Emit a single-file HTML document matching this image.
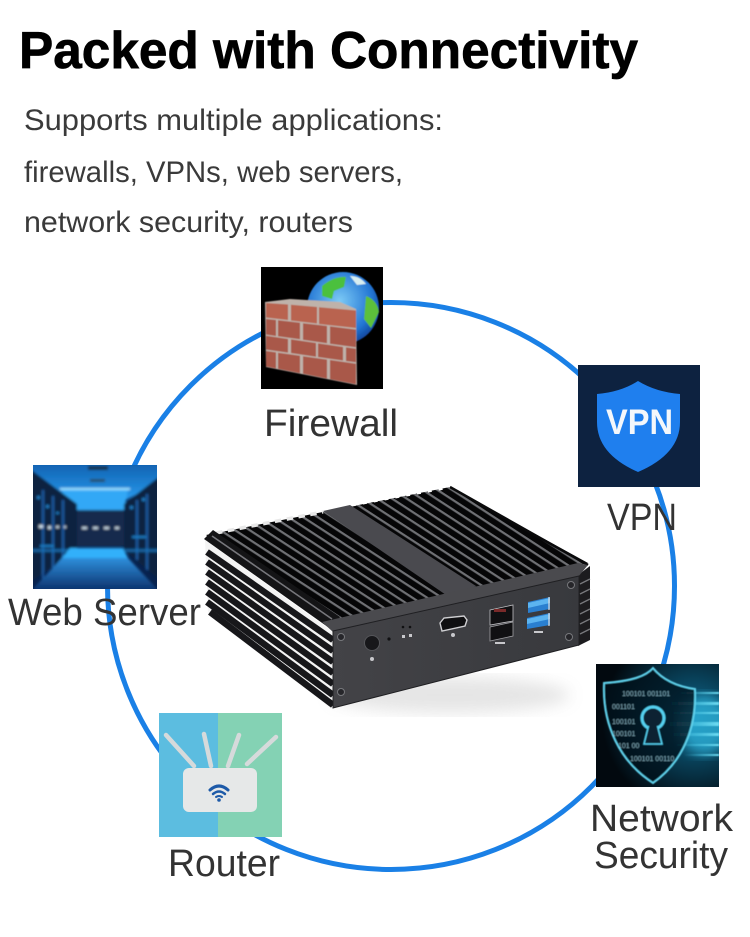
<!DOCTYPE html>
<html><head><meta charset="utf-8"><style>
html,body{margin:0;padding:0;background:#fff}
svg{display:block}
text{font-family:"Liberation Sans",sans-serif}
</style></head><body>
<svg xmlns="http://www.w3.org/2000/svg" width="750" height="937" viewBox="0 0 750 937">
<defs>
<pattern id="fin" width="8" height="8" patternUnits="userSpaceOnUse" patternTransform="translate(205 538) rotate(33)">
<rect width="8" height="8" fill="#060607"/><rect y="0" width="8" height="2.2" fill="#6f7074"/>
</pattern>
<clipPath id="cSrv"><rect x="33" y="465" width="124" height="124"/></clipPath>
<clipPath id="cSec"><rect x="596" y="664" width="123" height="123"/></clipPath>
<filter id="s1"><feGaussianBlur stdDeviation="0.6"/></filter>
<filter id="s15"><feGaussianBlur stdDeviation="1.2"/></filter>
<filter id="s6"><feGaussianBlur stdDeviation="6"/></filter>
<filter id="s8"><feGaussianBlur stdDeviation="8"/></filter>
<radialGradient id="globe" cx="0.45" cy="0.4" r="0.65"><stop offset="0" stop-color="#7ccaf6"/><stop offset="0.7" stop-color="#2376d4"/><stop offset="1" stop-color="#0d3c92"/></radialGradient>
<linearGradient id="panel" x1="0" y1="0" x2="1" y2="0"><stop offset="0" stop-color="#434347"/><stop offset="1" stop-color="#38393d"/></linearGradient>
<linearGradient id="srvTop" x1="0" y1="0" x2="0" y2="1"><stop offset="0" stop-color="#0f5fae"/><stop offset="1" stop-color="#2a9df0"/></linearGradient>
<linearGradient id="srvFloor" x1="0" y1="0" x2="0" y2="1"><stop offset="0" stop-color="#2e8fdc"/><stop offset="1" stop-color="#0a2c66"/></linearGradient>
<radialGradient id="secbg" cx="0.8" cy="0.45" r="0.75"><stop offset="0" stop-color="#0e6d94"/><stop offset="1" stop-color="#02090f"/></radialGradient>
<linearGradient id="streak" x1="0" y1="0" x2="1" y2="0"><stop offset="0" stop-color="#3fc4e6" stop-opacity="0"/><stop offset="1" stop-color="#6fdcf2"/></linearGradient>
</defs>
<rect width="750" height="937" fill="#fff"/>

<text x="19" y="68" font-size="52" font-weight="700" fill="#000" stroke="#000" stroke-width=".7" textLength="619" lengthAdjust="spacingAndGlyphs">Packed with Connectivity</text>
<g font-size="30" fill="#3a3a3a">
<text x="24" y="130" textLength="419" lengthAdjust="spacingAndGlyphs">Supports multiple applications:</text>
<text x="24" y="182" textLength="379" lengthAdjust="spacingAndGlyphs">firewalls, VPNs, web servers,</text>
<text x="24" y="232" textLength="329" lengthAdjust="spacingAndGlyphs">network security, routers</text>
</g>

<circle cx="391" cy="586" r="283.5" fill="none" stroke="#1a80e6" stroke-width="5"/>

<!-- Firewall -->
<g>
<rect x="261" y="267" width="122" height="122" fill="#000"/>
<g filter="url(#s1)">
<circle cx="343" cy="308" r="36" fill="url(#globe)"/>
<path d="M322 286q12-10 24-9l-2 10-10 4-2 8-10-3z" fill="#4cc03c"/>
<path d="M366 296q11 4 13 16l-8 16-7-9z" fill="#5cc03a"/>
<path d="M350 276q10 0 16 8l-9 1z" fill="#d8eef0"/>
<polygon points="265,302 290,299 340,302 356,309 357,385 266,367" fill="#bfb2aa"/>
<g fill="#a9584a">
<polygon points="266,303 288,304.5 288,320 266,317.5" fill="#b9644f"/>
<polygon points="291,304.8 317,307 317,323.5 291,320.5" fill="#b9644f"/>
<polygon points="319,307.3 356,310.5 356,328 319,324" fill="#b9644f"/>
<polygon points="266,319 276,320 276,336 266,334.5"/>
<polygon points="278,320.3 300,322.8 300,339.3 278,336.3"/>
<polygon points="303,323.2 327,326 327,343.2 303,339.8"/>
<polygon points="330,326.4 356,329.6 356,347.3 330,343.7"/>
<polygon points="266,335.8 288,339 288,352.6 266,349.5"/>
<polygon points="291,339.4 316,343 316,356.8 291,353"/>
<polygon points="318,343.4 343,347 343,360.5 318,357"/>
<polygon points="346,347.4 356,348.7 356,362.3 346,361"/>
<polygon points="266,351 276,352.4 276,368.5 266,366.5"/>
<polygon points="278,352.7 300,355.8 300,373.2 278,368.9"/>
<polygon points="303,356.2 327,359.6 327,378.6 303,373.8"/>
<polygon points="330,360 356,363.8 356,384.3 330,379.2"/>
</g>
</g>
</g>

<!-- VPN -->
<rect x="578" y="365" width="122" height="122" fill="#0d2240"/>
<path d="M638 381q18 11 42 13v28q0 32-42 50q-41-18-41-50v-28q24-2 41-13z" fill="#1f7fee"/>
<text x="606" y="434" font-size="35" font-weight="700" fill="#f4f7fb" textLength="67" lengthAdjust="spacingAndGlyphs">VPN</text>

<!-- Web server -->
<g clip-path="url(#cSrv)">
<rect x="33" y="465" width="124" height="124" fill="#08224e"/>
<g filter="url(#s15)">
<polygon points="30,462 160,462 160,482 122,502 68,502 30,482" fill="url(#srvTop)"/>
<rect x="88" y="466" width="20" height="4" fill="#15304a"/>
<rect x="90" y="479" width="15" height="3" fill="#25506a"/>
<rect x="60" y="488" width="70" height="2" fill="#9fe4ff"/>
<polygon points="62,490 128,490 124,510 66,510" fill="#33a8f6"/>
<polygon points="30,469 77,504 77,550 30,582" fill="#0e2440"/>
<polygon points="160,476 124,504 124,550 160,580" fill="#0e2440"/>
<rect x="77" y="510" width="47" height="36" fill="#12294d"/>
<g fill="#1a5fa8"><rect x="42" y="490" width="2" height="90"/><rect x="52" y="496" width="2" height="72"/><rect x="62" y="500" width="2" height="60"/><rect x="136" y="500" width="2" height="60"/><rect x="146" y="494" width="2" height="76"/></g>
<g fill="#1e7fc8"><rect x="37" y="496" width="3" height="3"/><rect x="46" y="505" width="3" height="3"/><rect x="56" y="512" width="3" height="2"/><rect x="40" y="545" width="14" height="2"/><rect x="130" y="506" width="3" height="3"/><rect x="142" y="498" width="3" height="3"/><rect x="132" y="536" width="14" height="2"/></g>
<g fill="#d2e4f0"><rect x="39" y="525" width="4" height="3"/><rect x="48" y="526" width="3" height="3"/><rect x="56" y="526" width="3" height="2"/><rect x="64" y="526" width="2" height="2"/><rect x="82" y="527" width="5" height="2"/><rect x="93" y="527" width="5" height="2"/><rect x="104" y="527" width="5" height="2"/><rect x="115" y="527" width="4" height="2"/></g>
<rect x="30" y="549" width="39" height="3" fill="#1a7cc4" opacity=".7"/>
<rect x="125" y="549" width="35" height="3" fill="#1a7cc4" opacity=".7"/>
<polygon points="70,548 123,548 128,558 62,558" fill="#33b0fa"/>
<polygon points="62,558 128,558 160,592 30,592" fill="url(#srvFloor)"/>
</g>
</g>

<!-- Router -->
<g>
<rect x="159" y="713" width="59" height="124" fill="#5cbde0"/>
<rect x="218" y="713" width="64" height="124" fill="#84d2b4"/>
<g stroke="#d6dadb" stroke-width="4.5" stroke-linecap="round" fill="none">
<line x1="166" y1="735" x2="194" y2="766"/>
<line x1="204" y1="734" x2="211" y2="766"/>
<line x1="239" y1="735" x2="228" y2="766"/>
<line x1="276" y1="737" x2="247" y2="764"/>
</g>
<rect x="183" y="768" width="74" height="44" rx="6" fill="#e6e8e8"/>
<g fill="none" stroke="#1d5aa8" stroke-linecap="round">
<path d="M210 790q9-8 18 0" stroke-width="3"/>
<path d="M213 794q6-5 12 0" stroke-width="2.5"/>
<path d="M216 797q3-2 6 0" stroke-width="2"/>
</g>
<circle cx="219" cy="800" r="1.8" fill="#1d5aa8"/>
</g>

<!-- Network security -->
<g clip-path="url(#cSec)">
<rect x="596" y="664" width="123" height="123" fill="url(#secbg)"/>
<ellipse cx="705" cy="725" rx="26" ry="30" fill="#2fb4dc" opacity=".75" filter="url(#s6)"/>
<g filter="url(#s1)">
<g fill="url(#streak)">
<rect x="680" y="692" width="39" height="2"/><rect x="670" y="702" width="49" height="3"/><rect x="672" y="712" width="47" height="2"/><rect x="668" y="722" width="51" height="4"/><rect x="672" y="733" width="47" height="3"/><rect x="676" y="744" width="43" height="2"/><rect x="684" y="754" width="35" height="2"/>
</g>
<path d="M653 668q14 17 42 21c2 38-12 73-42 94c-33-21-51-58-49-100c28-2 42-7 49-15z" fill="#06141e" fill-opacity=".75" stroke="#5fd0ea" stroke-width="2"/>
<g fill="#a9d8e6" font-size="7" font-family="Liberation Mono,monospace" opacity=".75">
<text x="622" y="696">100101 001101</text>
<text x="612" y="709">001101</text>
<text x="612" y="724">100101</text>
<text x="612" y="736">100101</text>
<text x="618" y="748">101 00</text>
<text x="630" y="761">100101 00110</text>
</g>
<circle cx="653" cy="718" r="11" fill="#0a2230" stroke="#54d0ef" stroke-width="3"/>
<path d="M649 724l-5 20h18l-5-20z" fill="#0a2230" stroke="#54d0ef" stroke-width="1.5"/>
<rect x="648" y="718" width="10" height="8" fill="#0a2230"/>
</g>
</g>

<!-- Labels -->
<g font-size="38" fill="#333">
<text x="264" y="436" textLength="134" lengthAdjust="spacingAndGlyphs">Firewall</text>
<text x="607" y="530" textLength="70" lengthAdjust="spacingAndGlyphs">VPN</text>
<text x="8" y="625" textLength="193" lengthAdjust="spacingAndGlyphs">Web Server</text>
<text x="168" y="876" textLength="112" lengthAdjust="spacingAndGlyphs">Router</text>
<text x="590" y="831" textLength="143" lengthAdjust="spacingAndGlyphs">Network</text>
<text x="594" y="868" textLength="134" lengthAdjust="spacingAndGlyphs">Security</text>
</g>

<!-- Device -->
<g>
<ellipse cx="450" cy="695" rx="120" ry="18" fill="#aaa" opacity=".3" filter="url(#s8)"/>
<polygon points="205,540 333,632 333,708 208,612" fill="#f4f4f4"/>
<g stroke="#17171a" stroke-width="6.5" fill="none">
<line x1="207" y1="552" x2="333" y2="640"/>
<line x1="207" y1="562" x2="333" y2="651"/>
<line x1="207" y1="572" x2="333" y2="662"/>
<line x1="207" y1="582" x2="333" y2="673"/>
<line x1="207" y1="592" x2="333" y2="684"/>
<line x1="207" y1="602" x2="333" y2="695"/>
<line x1="210" y1="612" x2="333" y2="705"/>
</g>
<polygon points="206,535 450,487 588,563 333,624" fill="url(#fin)"/>
<line x1="216" y1="533" x2="323" y2="512" stroke="#e8e8e8" stroke-width="3.5" stroke-dasharray="6.5 5.5"/>
<line x1="352" y1="505" x2="450" y2="487" stroke="#fff" stroke-width="3" stroke-dasharray="4 7"/>
<line x1="450" y1="487" x2="588" y2="565" stroke="#0a0a0b" stroke-width="2.5"/>
<polygon points="204,539 213,530 340,617 332,630" fill="#141416"/>
<line x1="212" y1="536" x2="332" y2="619" stroke="#77777c" stroke-width="1.6"/>
<polygon points="323,511 350,505 476,586 452,599" fill="#4a4a4f"/>
<polygon points="452,599 476,586 478,596 453,606" fill="#3b3b3f"/>
<polygon points="578,575 590,566 590,640 578,646" fill="#1c1c1f"/>
<g stroke="#77787c" stroke-width="1.4"><line x1="580" y1="584" x2="590" y2="579"/><line x1="580" y1="594" x2="590" y2="589"/><line x1="580" y1="604" x2="590" y2="599"/><line x1="580" y1="614" x2="590" y2="609"/><line x1="580" y1="624" x2="590" y2="619"/><line x1="580" y1="634" x2="590" y2="629"/></g>
<polygon points="322,622 578,563 588,565 578,577 333,632" fill="#4a4a4e"/>
<polygon points="333,631 579,576 579,645 333,708" fill="url(#panel)" stroke="#1f1f22" stroke-width="1"/>
<g fill="#26262a" stroke="#77787c" stroke-width="1">
<circle cx="341" cy="637" r="3.5"/><circle cx="571" cy="585" r="3.5"/><circle cx="569" cy="637" r="3.5"/><circle cx="341" cy="692" r="3.5"/>
</g>
<circle cx="372" cy="643" r="7.5" fill="#17171a" stroke="#55565a"/>
<circle cx="389" cy="639" r="1.6" fill="#101012"/>
<circle cx="403" cy="627" r="1.3" fill="#101012"/><circle cx="410" cy="627" r="1.3" fill="#101012"/>
<g fill="#c8c8cc"><rect x="402" y="635" width="3" height="3"/><rect x="409" y="634" width="3" height="3"/><circle cx="372" cy="659" r="2"/><circle cx="453" cy="635" r="2"/></g>
<polygon points="440,623 444,618 464,616 467,620 465,626 442,631" fill="#0f0f11" stroke="#cfcfd2" stroke-width="1.4"/>
<g>
<polygon points="490,610 513,605 513,621 490,625" fill="#101012" stroke="#c0c0c4" stroke-width=".8"/>
<rect x="494" y="609" width="12" height="3" fill="#7a2a2a"/>
<polygon points="490,627 513,622 513,636 490,641" fill="#101012" stroke="#a0a0a4" stroke-width=".8"/>
<rect x="495" y="642" width="10" height="2" fill="#c8c8cc"/>
</g>
<g>
<polygon points="528,602 550,597 550,609 528,613" fill="#2a7fd0"/>
<polygon points="528,603 550,598 550,603 528,608" fill="#5cb4f0"/>
<line x1="549" y1="597" x2="549" y2="610" stroke="#ddd" stroke-width="1.2"/>
<polygon points="527,618 550,613 550,625 527,629" fill="#2a7fd0"/>
<polygon points="527,619 550,614 550,619 527,624" fill="#5cb4f0"/>
<line x1="549" y1="613" x2="549" y2="626" stroke="#ddd" stroke-width="1.2"/>
<rect x="534" y="631" width="9" height="2" fill="#c8c8cc"/>
</g>
</g>
</svg>
</body></html>
